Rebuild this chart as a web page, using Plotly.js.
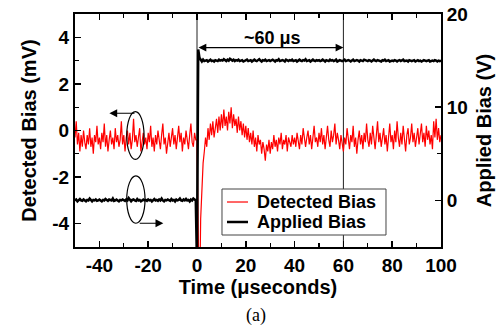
<!DOCTYPE html>
<html><head><meta charset="utf-8">
<script src="https://cdn.plot.ly/plotly-3.0.1.min.js"></script>
<style>html,body{margin:0;padding:0;background:#fff}#chart{width:503px;height:332px}</style>
</head><body><div id="chart"></div>
<script>
// Sample times (microseconds)
const timeUs = [
-50,-49.5,-49,-48.5,-48,-47.5,-47,-46.5,-46,-45.5,-45,-44.5,-44,-43.5,-43,-42.5,-42,-41.5,-41,-40.5,
-40,-39.5,-39,-38.5,-38,-37.5,-37,-36.5,-36,-35.5,-35,-34.5,-34,-33.5,-33,-32.5,-32,-31.5,-31,-30.5,
-30,-29.5,-29,-28.5,-28,-27.5,-27,-26.5,-26,-25.5,-25,-24.5,-24,-23.5,-23,-22.5,-22,-21.5,-21,-20.5,
-20,-19.5,-19,-18.5,-18,-17.5,-17,-16.5,-16,-15.5,-15,-14.5,-14,-13.5,-13,-12.5,-12,-11.5,-11,-10.5,
-10,-9.5,-9,-8.5,-8,-7.5,-7,-6.5,-6,-5.5,-5,-4.5,-4,-3.5,-3,-2.5,-2,-1.5,-1,-0.5,
0,0.5,1,1.5,2,2.5,3,3.5,4,4.5,5,5.5,6,6.5,7,7.5,8,8.5,9,9.5,
10,10.5,11,11.5,12,12.5,13,13.5,14,14.5,15,15.5,16,16.5,17,17.5,18,18.5,19,19.5,
20,20.5,21,21.5,22,22.5,23,23.5,24,24.5,25,25.5,26,26.5,27,27.5,28,28.5,29,29.5,
30,30.5,31,31.5,32,32.5,33,33.5,34,34.5,35,35.5,36,36.5,37,37.5,38,38.5,39,39.5,
40,40.5,41,41.5,42,42.5,43,43.5,44,44.5,45,45.5,46,46.5,47,47.5,48,48.5,49,49.5,
50,50.5,51,51.5,52,52.5,53,53.5,54,54.5,55,55.5,56,56.5,57,57.5,58,58.5,59,59.5,
60,60.5,61,61.5,62,62.5,63,63.5,64,64.5,65,65.5,66,66.5,67,67.5,68,68.5,69,69.5,
70,70.5,71,71.5,72,72.5,73,73.5,74,74.5,75,75.5,76,76.5,77,77.5,78,78.5,79,79.5,
80,80.5,81,81.5,82,82.5,83,83.5,84,84.5,85,85.5,86,86.5,87,87.5,88,88.5,89,89.5,
90,90.5,91,91.5,92,92.5,93,93.5,94,94.5,95,95.5,96,96.5,97,97.5,98,98.5,99,99.5,100
];

// Detected bias (mV)
const detectedBias = [
-0.3,0.4,-0.6,-0.1,-0.9,-0.2,-0.7,0.0,-0.5,-0.8,-0.2,-0.6,0.1,-0.7,-0.3,-1.0,-0.2,-0.5,0.2,-0.6,
-0.3,-0.8,-0.1,-0.5,0.3,-0.7,-0.2,-0.9,-0.4,0.0,-0.6,-0.3,-0.8,0.1,-0.5,-0.2,-0.7,-0.4,0.4,-0.6,
-0.2,-0.9,-0.3,0.0,-0.6,-0.1,-0.8,-0.4,0.5,-0.5,-0.2,-0.7,-0.3,0.1,-0.9,-0.4,-0.1,-0.6,-0.3,-0.8,
-0.1,-0.5,0.2,-0.7,-0.3,-0.9,-0.2,-0.6,0.0,-0.4,-0.8,-0.2,0.3,-0.6,-0.3,-1.0,-0.4,-0.1,-0.7,-0.3,
0.1,-0.6,-0.2,-0.8,-0.4,0.2,-0.5,-0.1,-0.9,-0.3,-0.6,0.0,-0.4,-0.8,-0.2,0.3,-0.5,-0.7,-0.1,-0.4,
-0.4,-8,-8,-3.8,-2.4,-1.4,-0.9,-0.3,-0.7,0.1,-0.4,0.3,-0.2,0.4,-0.3,0.2,0.5,-0.1,0.6,0.0,
0.7,0.1,0.9,0.2,0.6,0.0,0.8,0.3,1.0,0.1,0.7,0.2,0.5,-0.1,0.6,0.0,0.4,-0.2,0.3,-0.3,
0.2,-0.4,0.1,-0.5,-0.1,-0.6,0.0,-0.7,-0.3,-0.9,-0.2,-0.6,-0.4,-1.0,-0.5,-0.8,-1.3,-0.6,-0.9,-0.4,
-1.0,-0.5,-0.8,-0.2,-0.7,-0.4,-0.9,-0.3,-0.6,-0.1,-0.8,-0.4,-0.6,-0.2,-0.9,-0.3,-0.5,-0.7,-0.2,-0.6,
-0.3,-0.7,-0.1,-0.5,-0.8,-0.2,-0.6,0.1,-0.4,-0.7,-0.3,0.0,-0.6,-0.2,-0.8,-0.4,0.2,-0.5,-0.3,-0.7,
-0.1,-0.5,0.1,-0.6,-0.2,-0.8,-0.3,0.2,-0.4,-0.7,0.0,-0.5,-0.2,0.3,-0.6,-0.1,-0.4,-0.8,-0.2,-0.5,
-0.9,-0.3,-0.6,0.1,-0.4,-0.8,-0.2,-0.5,0.2,-0.7,-0.3,-1.0,-0.4,0.0,-0.6,-0.2,-0.8,-0.1,-0.5,0.3,
-0.4,-0.7,-0.1,-0.6,0.2,-0.3,-0.8,-0.2,0.4,-0.5,-0.1,-0.7,-0.3,0.1,-0.6,-0.2,-0.9,-0.4,0.3,-0.5,
-0.2,-0.8,0.0,-0.5,0.4,-0.3,-0.7,-0.1,-0.6,0.2,-0.4,-0.9,-0.2,0.1,-0.6,-0.3,0.3,-0.5,-0.1,-0.7,
-0.3,0.1,-0.6,-0.2,0.3,-0.5,-0.1,-0.7,0.2,-0.4,0.0,-0.6,-0.2,-0.8,0.4,-0.3,0.5,-0.4,0.1,-0.5,-0.2
];

// Applied bias (V)
const appliedBias = [
0,0.1,-0.1,0,0.15,0,-0.05,0.1,0,-0.1,0.05,0,0.2,0,-0.1,0.05,0,0.1,-0.05,0,
0.1,0,-0.1,0.05,0,0.15,0,-0.05,0.1,0,0,0.2,-0.05,0,0.1,0,-0.1,0.05,0,0.1,
0,-0.05,0.1,0,0.25,0,-0.1,0.05,0.1,0,-0.05,0.15,0,0.05,-0.1,0,0.1,0,0.05,-0.05,
0.1,0,0.05,-0.1,0,0.15,0,0.05,-0.05,0.1,0,0.2,0,-0.1,0.05,0,0.1,0,-0.05,0.15,
0,0.05,-0.1,0.1,0,0.05,0.2,0,-0.05,0.1,0,0.15,0,0.05,-0.1,0.1,0,0.2,0.05,0,
-7,16.2,15.3,15.0,14.9,15.1,14.95,15.0,15.05,14.9,15.0,15.1,14.95,15.0,14.9,15.05,15.0,14.95,15.1,15.0,
15.05,15.0,15.15,15.0,14.95,15.1,15.0,15.2,15.05,15.0,15.1,14.95,15.05,15.0,15.1,14.95,15.0,15.05,14.9,15.0,
15.0,15.1,14.95,15.0,15.05,14.9,15.0,15.1,15.0,14.95,15.05,15.15,15.0,14.9,15.05,15.0,15.1,14.95,15.0,15.05,
14.95,15.0,15.1,15.0,14.9,15.05,15.0,15.15,14.95,15.0,15.05,15.0,14.9,15.1,15.0,14.95,15.05,15.0,15.1,14.95,
15.0,15.05,14.9,15.0,15.1,15.0,14.95,15.05,15.0,15.15,14.95,15.0,15.05,14.9,15.0,15.1,15.0,14.95,15.05,15.0,
15.05,14.95,15.0,15.1,15.0,14.9,15.05,15.0,14.95,15.1,15.0,15.05,14.95,15.0,15.1,14.9,15.0,15.05,15.0,14.95,
15.0,15.1,14.95,15.0,15.05,15.0,14.9,15.0,15.1,14.95,15.0,15.05,15.0,14.9,15.05,15.0,14.95,15.1,15.0,15.0,
14.95,15.05,15.0,14.9,15.0,15.1,15.0,14.95,15.05,15.0,15.0,14.9,15.05,15.0,15.1,14.95,15.0,15.05,14.9,15.0,
15.0,14.95,15.05,15.0,14.9,15.0,15.05,14.95,15.0,15.1,14.95,15.0,15.0,14.9,15.05,15.0,14.95,15.0,15.05,14.9,
15.0,15.05,14.95,15.0,14.9,15.0,15.05,15.0,14.95,15.0,15.05,14.9,15.0,15.0,14.95,15.05,15.0,14.9,15.0,14.95,15.0
];

const xTickVals = [-40,-20,0,20,40,60,80,100];
const xTickText = ["-40","-20","0","20","40","60","80","100"];
const yTickVals = [-4,-2,0,2,4];
const yTickText = ["-4","-2","0","2","4"];
const y2TickVals = [0,10,20];
const y2TickText = ["0","10","20"];
const seriesNames = ["Detected Bias","Applied Bias"];
const seriesColors = ["#ff0000","#000000"];
const seriesWidths = [1.2, 2.5];

const FONT = "Liberation Sans, Arial, sans-serif";
const boldFont = (s) => ({family: FONT, size: s, color: "#000", weight: "bold"});

const traces = [
  {x: timeUs, y: detectedBias, name: seriesNames[0], type: "scatter", mode: "lines",
   line: {color: seriesColors[0], width: seriesWidths[0]}, yaxis: "y"},
  {x: timeUs, y: appliedBias, name: seriesNames[1], type: "scatter", mode: "lines",
   line: {color: seriesColors[1], width: seriesWidths[1]}, yaxis: "y2"}
];

const axisCommon = {
  showline: true, linecolor: "#000", linewidth: 2, ticks: "inside", ticklen: 6,
  tickwidth: 1.5, tickcolor: "#000", showgrid: false, zeroline: false,
  tickfont: boldFont(19), tickmode: "array"
};

// Legend drawn as a framed box (paper coordinates)
const legendBox = {x0: 0.4016, x1: 0.8497, y0: 0.0515, y1: 0.2489};
const legendRows = [0.1931, 0.1073];
const legendShapes = [
  {type: "rect", xref: "paper", yref: "paper", x0: legendBox.x0, x1: legendBox.x1, y0: legendBox.y0, y1: legendBox.y1,
   line: {color: "#444", width: 1}, fillcolor: "#fff", layer: "above"}
];
const legendAnns = [];
seriesNames.forEach((nm, i) => {
  legendShapes.push({type: "line", xref: "paper", yref: "paper", x0: 0.4153, x1: 0.4727,
    y0: legendRows[i], y1: legendRows[i], line: {color: seriesColors[i], width: seriesWidths[i]}, layer: "above"});
  legendAnns.push({x: 0.4918, y: legendRows[i], xref: "paper", yref: "paper", text: nm, showarrow: false,
    xanchor: "left", yanchor: "middle", font: boldFont(18)});
});

const layout = {
  width: 503, height: 332,
  margin: {l: 75, r: 62, t: 14, b: 85, pad: 0},
  paper_bgcolor: "#fff", plot_bgcolor: "#fff",
  font: boldFont(18),
  showlegend: false,
  xaxis: Object.assign({}, axisCommon, {
    range: [-50, 100], tickvals: xTickVals, ticktext: xTickText, mirror: "ticks",
    minor: {ticks: "inside", tickmode: "linear", tick0: 0, dtick: 10, ticklen: 4, tickwidth: 1.2, tickcolor: "#000"},
    title: {text: "Time (μseconds)", font: boldFont(20), standoff: 4}
  }),
  yaxis: Object.assign({}, axisCommon, {
    range: [-5, 5], tickvals: yTickVals, ticktext: yTickText,
    minor: {ticks: "inside", tickmode: "linear", tick0: 0, dtick: 1, ticklen: 4, tickwidth: 1.2, tickcolor: "#000"},
    title: {text: "Detected Bias (mV)", font: boldFont(20), standoff: 10}
  }),
  yaxis2: Object.assign({}, axisCommon, {
    overlaying: "y", side: "right", range: [-5, 20], tickvals: y2TickVals, ticktext: y2TickText,
    minor: {ticks: "inside", tickmode: "linear", tick0: 0, dtick: 5, ticklen: 4, tickwidth: 1.2, tickcolor: "#000"},
    title: {text: "Applied Bias (V)", font: boldFont(20), standoff: 10}
  }),
  shapes: [
    {type: "line", xref: "x", yref: "paper", x0: 0, x1: 0, y0: 0, y1: 1, line: {color: "#222", width: 1}, layer: "below"},
    {type: "line", xref: "x", yref: "paper", x0: 60, x1: 60, y0: 0, y1: 1, line: {color: "#222", width: 1}, layer: "below"},
    {type: "circle", xref: "x", yref: "y", x0: -28.8, x1: -21.7, y0: -1.24, y1: 0.81, line: {color: "#000", width: 1.2}},
    {type: "circle", xref: "x", yref: "y", x0: -28.8, x1: -21.3, y0: -3.98, y1: -1.95, line: {color: "#000", width: 1.2}}
  ].concat(legendShapes),
  annotations: [
    {x: 60, y: 3.56, ax: 0, ay: 3.56, xref: "x", yref: "y", axref: "x", ayref: "y", text: "",
     showarrow: true, arrowside: "end+start", arrowhead: 2, startarrowhead: 2, arrowsize: 1.3, startarrowsize: 1.3,
     arrowwidth: 1.2, arrowcolor: "#000", standoff: 0, startstandoff: 0},
    {x: 30.9, y: 3.97, xref: "x", yref: "y", text: "~60 μs", showarrow: false, font: boldFont(18),
     xanchor: "center", yanchor: "middle"},
    {x: -35.9, y: 0.74, ax: -25.0, ay: 0.74, xref: "x", yref: "y", axref: "x", ayref: "y", text: "",
     showarrow: true, arrowhead: 2, arrowsize: 1.3, arrowwidth: 1.2, arrowcolor: "#000", standoff: 0},
    {x: -13.8, y: -3.98, ax: -24.1, ay: -3.98, xref: "x", yref: "y", axref: "x", ayref: "y", text: "",
     showarrow: true, arrowhead: 2, arrowsize: 1.3, arrowwidth: 1.2, arrowcolor: "#000", standoff: 0},
    {x: 0.4945, y: -0.292, xref: "paper", yref: "paper", text: "(a)", showarrow: false,
     font: {family: "Liberation Serif, Times New Roman, serif", size: 18, color: "#000", weight: "normal"},
     xanchor: "center", yanchor: "middle"}
  ].concat(legendAnns)
};

Plotly.newPlot("chart", traces, layout, {staticPlot: true, displayModeBar: false});
</script>
</body></html>
